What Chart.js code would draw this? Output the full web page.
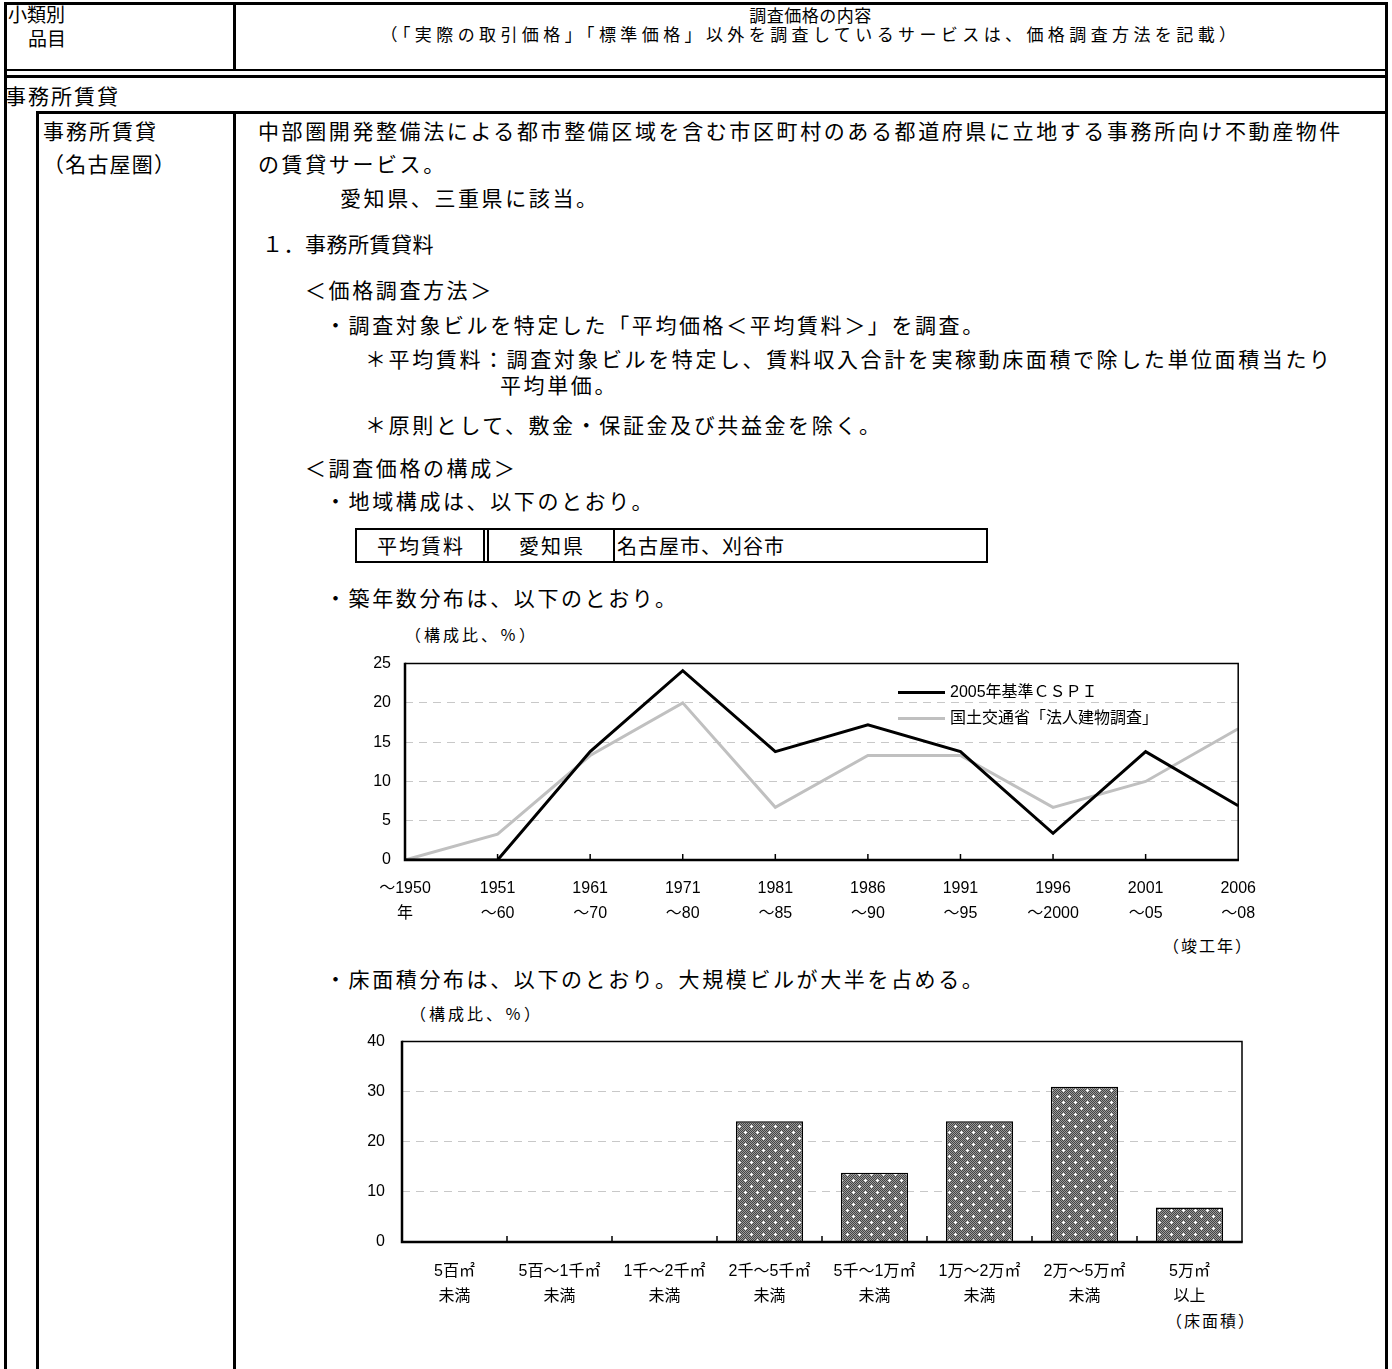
<!DOCTYPE html>
<html><head><meta charset="utf-8">
<script src="https://cdn.jsdelivr.net/npm/chart.js@4.4.1/dist/chart.umd.min.js"></script>
<style>
html,body{margin:0;padding:0;background:#fff;}
#page{position:relative;width:1392px;height:1369px;overflow:hidden;background:#fff;font-family:"Noto Sans CJK JP","Noto Sans CJK SC",sans-serif;color:#000;}
.t{position:absolute;white-space:nowrap;font-size:21px;line-height:21px;letter-spacing:2.6px;}
.s{font-size:16px;line-height:16px;letter-spacing:3px;}
.ln{position:absolute;background:#000;}
canvas{position:absolute;}
.cell{position:absolute;top:0;height:35px;line-height:35px;font-size:20px;letter-spacing:2px;white-space:nowrap;}
</style></head><body><div id="page">

<!-- frame lines -->
<div class="ln" style="left:4px;top:2px;width:1384px;height:3px"></div>
<div class="ln" style="left:4px;top:2px;width:3px;height:1367px"></div>
<div class="ln" style="left:1385px;top:2px;width:3px;height:1367px"></div>
<div class="ln" style="left:233px;top:2px;width:3px;height:69px"></div>
<div class="ln" style="left:4px;top:69px;width:1384px;height:2px"></div>
<div class="ln" style="left:4px;top:75px;width:1384px;height:3px"></div>
<div class="ln" style="left:36px;top:111px;width:1352px;height:3px"></div>
<div class="ln" style="left:36px;top:111px;width:3px;height:1258px"></div>
<div class="ln" style="left:233px;top:111px;width:3px;height:1258px"></div>

<!-- header -->
<div class="t" style="left:8px;top:4px;font-size:19px;line-height:19px;letter-spacing:0px">小類別</div>
<div class="t" style="left:28px;top:28px;font-size:19px;line-height:19px;letter-spacing:0px">品目</div>
<div class="t" style="left:236px;width:1149px;text-align:center;top:6px;font-size:17px;line-height:17px;letter-spacing:0.5px">調査価格の内容</div>
<div class="t" style="left:236px;width:1149px;text-align:center;top:25px;font-size:17px;line-height:17px;letter-spacing:4.4px">（「実際の取引価格」「標準価格」以外を調査しているサービスは、価格調査方法を記載）</div>

<div class="t" style="left:5px;top:85px;letter-spacing:2px">事務所賃貸</div>
<div class="t" style="left:43px;top:120px;letter-spacing:2px">事務所賃貸</div>
<div class="t" style="left:43px;top:153px;letter-spacing:1.2px">（名古屋圏）</div>

<!-- body -->
<div class="t" style="left:258px;top:120px">中部圏開発整備法による都市整備区域を含む市区町村のある都道府県に立地する事務所向け不動産物件</div>
<div class="t" style="left:258px;top:153px">の賃貸サービス。</div>
<div class="t" style="left:340px;top:187px">愛知県、三重県に該当。</div>
<div class="t" style="left:262px;top:233px;letter-spacing:0.5px">１．事務所賃貸料</div>
<div class="t" style="left:305px;top:279px">＜価格調査方法＞</div>
<div class="t" style="left:325px;top:314px">・調査対象ビルを特定した「平均価格＜平均賃料＞」を調査。</div>
<div class="t" style="left:365px;top:348px">＊平均賃料：調査対象ビルを特定し、賃料収入合計を実稼動床面積で除した単位面積当たり</div>
<div class="t" style="left:500px;top:374px">平均単価。</div>
<div class="t" style="left:365px;top:414px">＊原則として、敷金・保証金及び共益金を除く。</div>
<div class="t" style="left:305px;top:457px">＜調査価格の構成＞</div>
<div class="t" style="left:325px;top:490px">・地域構成は、以下のとおり。</div>

<div style="position:absolute;left:355px;top:528px;width:633px;height:35px;box-sizing:border-box;border:2px solid #000;">
  <div class="cell" style="left:0;width:128px;text-align:center;top:-2px">平均賃料</div>
  <div class="ln" style="left:126px;top:0;width:1.5px;height:31px"></div>
  <div class="ln" style="left:130px;top:0;width:1.5px;height:31px"></div>
  <div class="cell" style="left:132px;width:126px;text-align:center;top:-2px">愛知県</div>
  <div class="ln" style="left:256px;top:0;width:1.5px;height:31px"></div>
  <div class="cell" style="left:260px;top:-2px;letter-spacing:1px">名古屋市、刈谷市</div>
</div>

<div class="t" style="left:325px;top:587px">・築年数分布は、以下のとおり。</div>
<div class="t s" style="left:405px;top:626px">（構成比、％）</div>
<div class="t s" style="left:1163px;top:937px;letter-spacing:2px">（竣工年）</div>

<div class="t" style="left:325px;top:968px">・床面積分布は、以下のとおり。大規模ビルが大半を占める。</div>
<div class="t s" style="left:410px;top:1005px">（構成比、％）</div>
<div class="t s" style="left:1166px;top:1312px;letter-spacing:2px">（床面積）</div>

<canvas id="lineChart" width="932" height="290" style="left:340px;top:640px;width:932px;height:290px"></canvas>
<canvas id="barChart" width="920" height="330" style="left:340px;top:1015px;width:920px;height:330px"></canvas>
</div>
<script>
// ---- data ----
const lineCategories = [["～1950","年"],["1951","～60"],["1961","～70"],["1971","～80"],["1981","～85"],["1986","～90"],["1991","～95"],["1996","～2000"],["2001","～05"],["2006","～08"]];
const cspiSeries = [0, 0, 13.8, 24.1, 13.8, 17.2, 13.8, 3.4, 13.8, 6.9];
const mlitSeries = [0, 3.3, 13.3, 20.0, 6.7, 13.3, 13.3, 6.7, 10.0, 16.7];
const lineSeriesNames = ["2005年基準ＣＳＰＩ", "国土交通省「法人建物調査」"];
const lineYTicks = [0, 5, 10, 15, 20, 25];

const barCategories = [["5百㎡","未満"],["5百～1千㎡","未満"],["1千～2千㎡","未満"],["2千～5千㎡","未満"],["5千～1万㎡","未満"],["1万～2万㎡","未満"],["2万～5万㎡","未満"],["5万㎡","以上"]];
const barSeries = [0, 0, 0, 24.1, 13.8, 24.1, 31.0, 6.9];
const barYTicks = [0, 10, 20, 30, 40];

const FONT_LAT = '"Liberation Sans", "Noto Sans CJK JP"';

const framePlugin = {
  id: 'frame',
  afterDraw(chart, args, opts) {
    const ctx = chart.ctx, a = chart.chartArea, xs = chart.scales.x;
    ctx.save();
    ctx.strokeStyle = '#000';
    ctx.setLineDash([]);
    ctx.lineWidth = 1.5;
    ctx.beginPath(); ctx.moveTo(a.left, a.top); ctx.lineTo(a.right, a.top); ctx.lineTo(a.right, a.bottom); ctx.stroke();
    ctx.lineWidth = 2.5;
    ctx.beginPath(); ctx.moveTo(a.left, a.top - 0.75); ctx.lineTo(a.left, a.bottom); ctx.lineTo(a.right + 0.75, a.bottom); ctx.stroke();
    ctx.lineWidth = 1.5;
    const n = chart.data.labels.length;
    const xsPix = [];
    if (opts.mode === 'edge') {
      for (let i = 1; i < n - 1; i++) xsPix.push(xs.getPixelForValue(i));
    } else {
      for (let i = 1; i < n; i++) xsPix.push(xs.getPixelForValue(i - 0.5));
    }
    xsPix.forEach(x => { ctx.beginPath(); ctx.moveTo(x, a.bottom); ctx.lineTo(x, a.bottom - 6); ctx.stroke(); });
    ctx.restore();
  }
};

const insideLegend = {
  id: 'insideLegend',
  afterDatasetsDraw(chart) {
    const ctx = chart.ctx, a = chart.chartArea;
    ctx.save();
    ctx.font = '16px ' + FONT_LAT;
    ctx.textBaseline = 'middle';
    ctx.fillStyle = '#000';
    chart.data.datasets.forEach((ds, i) => {
      const y = a.top + 29 + i * 26;
      ctx.strokeStyle = ds.borderColor; ctx.lineWidth = 3;
      ctx.beginPath(); ctx.moveTo(a.left + 493, y); ctx.lineTo(a.left + 540, y); ctx.stroke();
      ctx.fillText(ds.label, a.left + 545, y);
    });
    ctx.restore();
  }
};

new Chart(document.getElementById('lineChart'), {
  type: 'line',
  data: {
    labels: lineCategories,
    datasets: [
      { label: lineSeriesNames[0], data: cspiSeries, borderColor: '#000', borderWidth: 3, pointRadius: 0, tension: 0, fill: false },
      { label: lineSeriesNames[1], data: mlitSeries, borderColor: '#c0c0c0', borderWidth: 3, pointRadius: 0, tension: 0, fill: false }
    ]
  },
  options: {
    responsive: false, animation: false, events: [],
    layout: { padding: { top: 12, right: 22, left: 0, bottom: 0 } },
    plugins: { legend: { display: false }, tooltip: { enabled: false }, frame: { mode: 'edge' } },
    scales: {
      x: {
        offset: false,
        grid: { display: false, drawTicks: false },
        border: { display: false },
        ticks: { autoSkip: false, maxRotation: 0, minRotation: 0, padding: 16, color: '#000', font: { family: FONT_LAT, size: 16, lineHeight: 1.55 } },
        afterFit(s) { s.height = 70; }
      },
      y: {
        min: lineYTicks[0], max: lineYTicks[lineYTicks.length - 1],
        afterBuildTicks(s) { s.ticks = lineYTicks.map(v => ({ value: v })); },
        grid: { drawTicks: false, lineWidth: 1, color: c => (c.tick && (c.tick.value === lineYTicks[0] || c.tick.value === lineYTicks[lineYTicks.length - 1])) ? 'rgba(0,0,0,0)' : '#c8c8c8' },
        border: { display: false, dash: [8, 6] },
        ticks: { padding: 14, color: '#000', font: { family: FONT_LAT, size: 16 } },
        afterFit(s) { s.width = 65; }
      }
    }
  },
  plugins: [framePlugin, insideLegend]
});

function makePattern() {
  const c = document.createElement('canvas'); c.width = 12; c.height = 12;
  const g = c.getContext('2d');
  for (let y = 0; y < 12; y++) for (let x = 0; x < 12; x++) {
    g.fillStyle = ((x + y) % 2) ? '#444444' : '#9a9a9a'; g.fillRect(x, y, 1, 1);
  }
  g.fillStyle = '#fff';
  [[3, 3], [9, 9]].forEach(([x, y]) => { g.fillRect(x - 1, y, 3, 1); g.fillRect(x, y - 1, 1, 3); });
  return g.createPattern(c, 'repeat');
}

new Chart(document.getElementById('barChart'), {
  type: 'bar',
  data: {
    labels: barCategories,
    datasets: [{ data: barSeries, backgroundColor: makePattern(), borderColor: '#000', borderWidth: 1.5, borderSkipped: 'bottom', categoryPercentage: 1, barPercentage: 0.64 }]
  },
  options: {
    responsive: false, animation: false, events: [],
    layout: { padding: { top: 16, right: 18, left: 0, bottom: 0 } },
    plugins: { legend: { display: false }, tooltip: { enabled: false }, frame: { mode: 'between' } },
    scales: {
      x: {
        grid: { display: false, drawTicks: false },
        border: { display: false },
        ticks: { autoSkip: false, maxRotation: 0, minRotation: 0, padding: 17, color: '#000', font: { family: FONT_LAT, size: 16, lineHeight: 1.55 } },
        afterFit(s) { s.height = 103; }
      },
      y: {
        min: barYTicks[0], max: barYTicks[barYTicks.length - 1],
        afterBuildTicks(s) { s.ticks = barYTicks.map(v => ({ value: v })); },
        grid: { drawTicks: false, lineWidth: 1, color: c => (c.tick && (c.tick.value === barYTicks[0] || c.tick.value === barYTicks[barYTicks.length - 1])) ? 'rgba(0,0,0,0)' : '#c8c8c8' },
        border: { display: false, dash: [8, 6] },
        ticks: { padding: 17, color: '#000', font: { family: FONT_LAT, size: 16 } },
        afterFit(s) { s.width = 62; }
      }
    }
  },
  plugins: [framePlugin]
});
</script>
</body></html>
